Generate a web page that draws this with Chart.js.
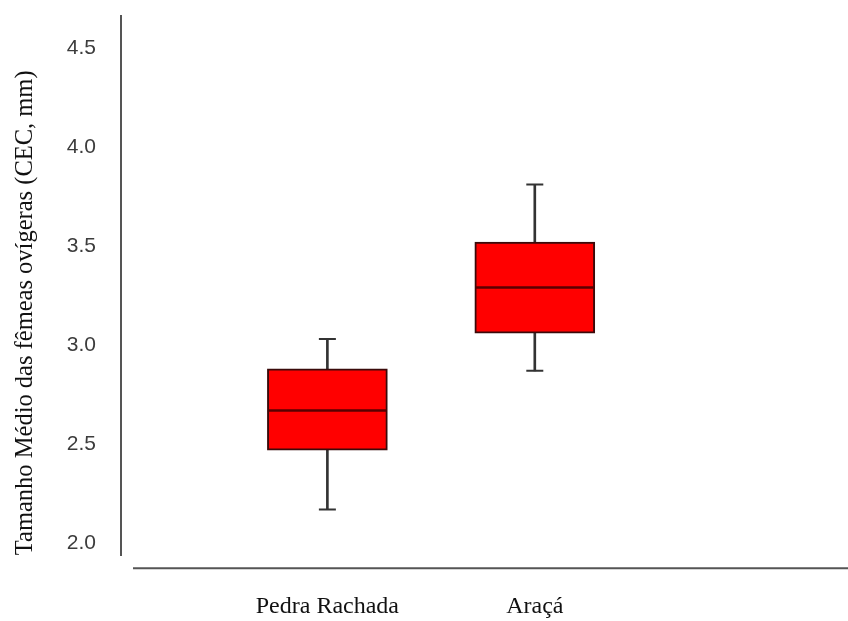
<!DOCTYPE html>
<html lang="pt">
<head>
    <meta charset="UTF-8">
    <title>Tamanho médio das fêmeas ovígeras</title>
    <script src="https://cdn.jsdelivr.net/npm/chart.js"></script>
    <style>
        body { margin: 0; background: #fff; }
    </style>
</head>
<body>
    <canvas id="myChart" width="848" height="621"></canvas>

    <script>
        // Box plot values (CEC, mm)
        const categories = ['Pedra Rachada', 'Araçá'];
        const whiskerMin = [2.17, 2.87];
        const quartile1 = [2.47, 3.06];
        const medians = [2.67, 3.29];
        const quartile3 = [2.88, 3.52];
        const whiskerMax = [3.03, 3.81];
        const yTicks = [2.0, 2.5, 3.0, 3.5, 4.0, 4.5];

        const positions = categories.map((c, i) => i + 1);

        // x axis drawn as a detached line under the plot
        const detachedAxis = {
            id: 'detachedAxis',
            afterDraw(chart) {
                const {ctx, chartArea} = chart;
                const y = chartArea.bottom + 13;
                ctx.save();
                ctx.strokeStyle = '#555';
                ctx.lineWidth = 2;
                ctx.beginPath();
                ctx.moveTo(chartArea.left + 12, y);
                ctx.lineTo(chart.width, y);
                ctx.stroke();
                ctx.restore();
            }
        };

        const ctx = document.getElementById('myChart').getContext('2d');
        new Chart(ctx, {
            type: 'bar',
            data: {
                datasets: [
                    {
                        label: 'whisker',
                        data: positions.map((x, i) => ({x: x, y: [whiskerMin[i], whiskerMax[i]]})),
                        backgroundColor: '#333',
                        barThickness: 2,
                        grouped: false,
                        order: 4
                    },
                    {
                        label: 'box',
                        data: positions.map((x, i) => ({x: x, y: [quartile1[i], quartile3[i]]})),
                        backgroundColor: '#ff0000',
                        borderColor: '#3a0a0a',
                        borderWidth: 2,
                        borderSkipped: false,
                        barThickness: 120,
                        grouped: false,
                        order: 3
                    },
                    {
                        type: 'scatter',
                        label: 'caps',
                        data: positions.flatMap((x, i) => [{x: x, y: whiskerMin[i]}, {x: x, y: whiskerMax[i]}]),
                        pointStyle: 'line',
                        pointRadius: 8.5,
                        borderColor: '#333',
                        borderWidth: 2,
                        order: 2
                    },
                    {
                        type: 'scatter',
                        label: 'median',
                        data: positions.map((x, i) => ({x: x, y: medians[i]})),
                        pointStyle: 'line',
                        pointRadius: 59,
                        borderColor: '#5a0000',
                        borderWidth: 2.5,
                        order: 1
                    }
                ]
            },
            options: {
                responsive: false,
                animation: false,
                layout: {
                    autoPadding: false,
                    padding: {left: 0, right: 0, top: 16, bottom: 0}
                },
                plugins: {
                    legend: { display: false },
                    tooltip: { enabled: false }
                },
                scales: {
                    x: {
                        type: 'linear',
                        offset: false,
                        min: 0.005,
                        max: 3.51,
                        // tick marks hidden, their length only spaces the labels
                        grid: { display: false, drawTicks: true, tickLength: 37 },
                        border: { display: false },
                        afterBuildTicks: scale => {
                            scale.ticks = positions.map(v => ({value: v}));
                        },
                        ticks: {
                            padding: 0,
                            maxRotation: 0,
                            autoSkip: false,
                            color: '#111',
                            font: { family: '"Liberation Serif", "DejaVu Serif", serif', size: 24 },
                            callback: v => categories[v - 1]
                        }
                    },
                    y: {
                        min: 1.94,
                        max: 4.66,
                        grid: { display: false, drawTicks: true, tickLength: 25 },
                        border: { display: true, color: '#555', width: 2 },
                        afterBuildTicks: scale => {
                            scale.ticks = yTicks.map(v => ({value: v}));
                        },
                        afterFit: scale => {
                            scale.width = 121;
                        },
                        ticks: {
                            padding: 0,
                            color: '#3c3c3c',
                            font: { family: '"Liberation Sans", Arial, sans-serif', size: 21 },
                            callback: v => v.toFixed(1)
                        },
                        title: {
                            display: true,
                            text: 'Tamanho Médio das fêmeas ovígeras (CEC, mm)',
                            color: '#111',
                            align: 'start',
                            padding: { top: 11, bottom: 0 },
                            font: { family: '"Liberation Serif", "DejaVu Serif", serif', size: 24.5 }
                        }
                    }
                }
            },
            plugins: [detachedAxis]
        });
    </script>
</body>
</html>
